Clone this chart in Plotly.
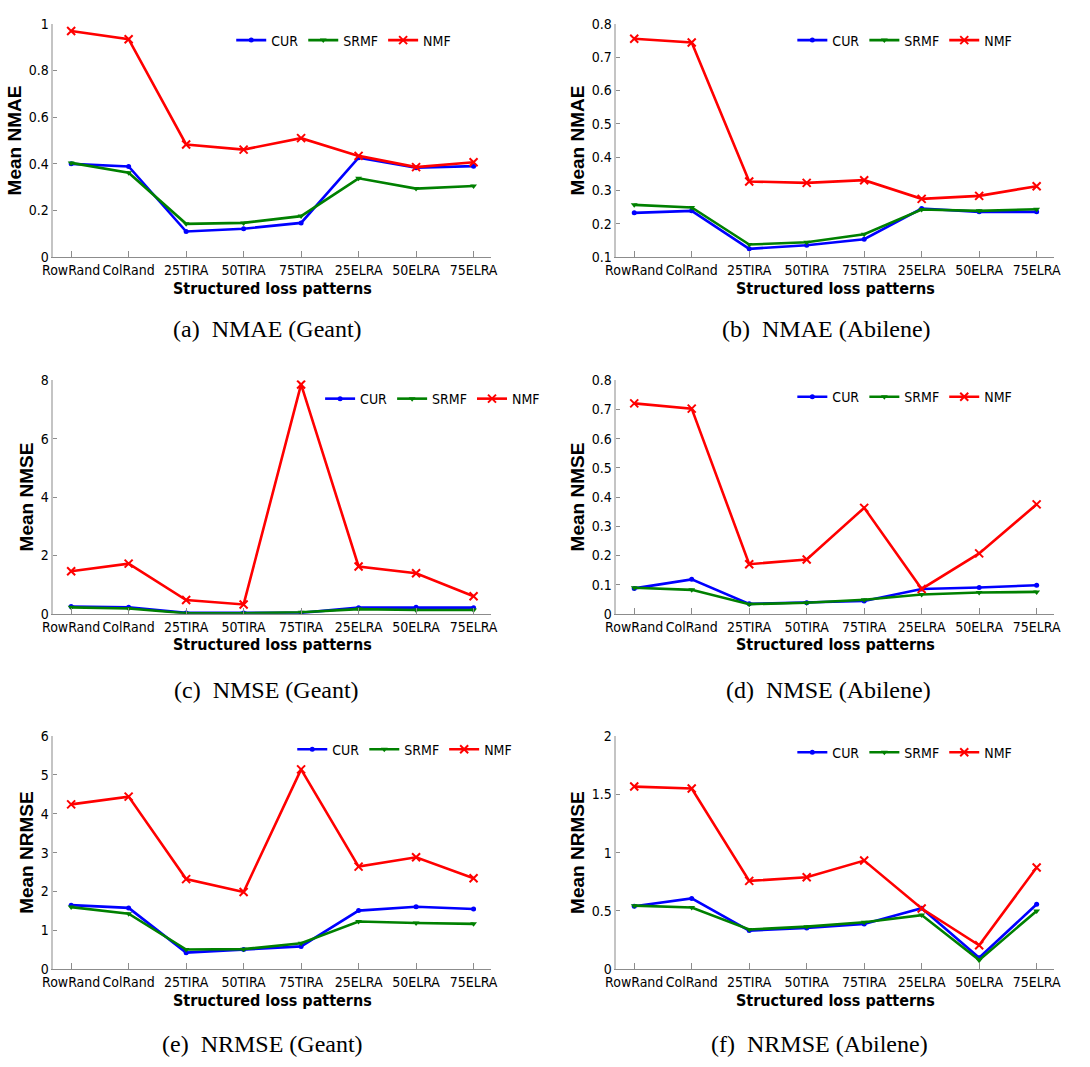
import plotly.graph_objects as go

# ---------------- data ----------------
categories = ["RowRand", "ColRand", "25TIRA", "50TIRA", "75TIRA", "25ELRA", "50ELRA", "75ELRA"]
methods = ["CUR", "SRMF", "NMF"]

nmae_geant_cur = [0.400, 0.389, 0.110, 0.122, 0.147, 0.426, 0.383, 0.390]
nmae_geant_srmf = [0.404, 0.362, 0.143, 0.147, 0.176, 0.338, 0.294, 0.305]
nmae_geant_nmf = [0.969, 0.934, 0.483, 0.461, 0.510, 0.434, 0.386, 0.407]

nmae_abilene_cur = [0.233, 0.239, 0.125, 0.136, 0.154, 0.246, 0.236, 0.236]
nmae_abilene_srmf = [0.257, 0.249, 0.138, 0.145, 0.169, 0.243, 0.239, 0.244]
nmae_abilene_nmf = [0.755, 0.744, 0.327, 0.323, 0.331, 0.275, 0.284, 0.313]

nmse_geant_cur = [0.25, 0.22, 0.03, 0.03, 0.03, 0.21, 0.22, 0.21]
nmse_geant_srmf = [0.22, 0.18, 0.02, 0.02, 0.05, 0.16, 0.13, 0.13]
nmse_geant_nmf = [1.46, 1.72, 0.47, 0.32, 7.86, 1.62, 1.39, 0.60]

nmse_abilene_cur = [0.087, 0.118, 0.034, 0.038, 0.044, 0.085, 0.090, 0.098]
nmse_abilene_srmf = [0.089, 0.082, 0.033, 0.038, 0.048, 0.066, 0.073, 0.075]
nmse_abilene_nmf = [0.721, 0.703, 0.170, 0.186, 0.363, 0.085, 0.207, 0.375]

nrmse_geant_cur = [1.65, 1.58, 0.43, 0.51, 0.59, 1.51, 1.61, 1.55]
nrmse_geant_srmf = [1.60, 1.43, 0.51, 0.52, 0.67, 1.23, 1.19, 1.17]
nrmse_geant_nmf = [4.24, 4.44, 2.32, 1.99, 5.14, 2.64, 2.88, 2.34]

nrmse_abilene_cur = [0.541, 0.608, 0.332, 0.355, 0.389, 0.524, 0.099, 0.558]
nrmse_abilene_srmf = [0.546, 0.530, 0.341, 0.366, 0.403, 0.465, 0.079, 0.501]
nrmse_abilene_nmf = [1.566, 1.549, 0.758, 0.789, 0.932, 0.521, 0.206, 0.873]

y_titles = ["Mean NMAE", "Mean NMAE", "Mean NMSE", "Mean NMSE", "Mean NRMSE", "Mean NRMSE"]
captions = ["(a)  NMAE (Geant)", "(b)  NMAE (Abilene)", "(c)  NMSE (Geant)",
            "(d)  NMSE (Abilene)", "(e)  NRMSE (Geant)", "(f)  NRMSE (Abilene)"]
y_ticks = [
    [0, 0.2, 0.4, 0.6, 0.8, 1],
    [0.1, 0.2, 0.3, 0.4, 0.5, 0.6, 0.7, 0.8],
    [0, 2, 4, 6, 8],
    [0, 0.1, 0.2, 0.3, 0.4, 0.5, 0.6, 0.7, 0.8],
    [0, 1, 2, 3, 4, 5, 6],
    [0, 0.5, 1, 1.5, 2],
]
series = [
    (nmae_geant_cur, nmae_geant_srmf, nmae_geant_nmf),
    (nmae_abilene_cur, nmae_abilene_srmf, nmae_abilene_nmf),
    (nmse_geant_cur, nmse_geant_srmf, nmse_geant_nmf),
    (nmse_abilene_cur, nmse_abilene_srmf, nmse_abilene_nmf),
    (nrmse_geant_cur, nrmse_geant_srmf, nrmse_geant_nmf),
    (nrmse_abilene_cur, nrmse_abilene_srmf, nrmse_abilene_nmf),
]

# ---------------- layout / style ----------------
W, H = 1090, 1067
NARROW = "Liberation Sans Narrow, Arial Narrow, DejaVu Sans Condensed, sans-serif"
BOLD = "Liberation Sans, Arial, Helvetica, sans-serif"
SERIF = "Liberation Serif, Times New Roman, serif"

# pixel boxes: (left, right, top, bottom)
boxes = [
    (43, 488, 16, 253), (615, 1060, 16, 253),
    (43, 488, 378, 615), (615, 1060, 378, 615),
    (43, 488, 739, 976), (615, 1060, 739, 976),
]
# legend anchor (x px, y px, xanchor)
legend_pos = [(338, 33, "center"), (908, 33, "center"), (314, 397, "left"),
              (908, 395, "center"), (400, 753, "center"), (908, 756, "center")]
caption_pos = [(261, 326), (828, 326), (260, 692), (830, 692), (255, 1052), (821, 1052)]

colors = ["#0000ff", "#008000", "#ff0000"]
symbols = ["circle", "triangle-down", "x-thin"]
msize = [5, 6, 8]

fig = go.Figure()
layout = dict(
    width=W, height=H, margin=dict(l=0, r=0, t=0, b=0),
    paper_bgcolor="white", plot_bgcolor="white", showlegend=True,
)
annotations = []

for i in range(6):
    n = i + 1
    xa = "xaxis" if n == 1 else f"xaxis{n}"
    ya = "yaxis" if n == 1 else f"yaxis{n}"
    xref = "x" if n == 1 else f"x{n}"
    yref = "y" if n == 1 else f"y{n}"
    lg = "legend" if n == 1 else f"legend{n}"
    l, r, t, b = boxes[i]
    for k in range(3):
        fig.add_trace(go.Scatter(
            x=categories, y=series[i][k], name=methods[k], mode="lines+markers",
            xaxis=xref, yaxis=yref, legend=lg,
            line=dict(color=colors[k], width=2.6),
            marker=dict(color=colors[k], symbol=symbols[k], size=msize[k],
                        line=dict(color=colors[k], width=2 if k == 2 else 0)),
        ))
    layout[xa] = dict(
        domain=[l / W, r / W], anchor=yref, type="category",
        range=[-0.31, 7.31], showgrid=False, zeroline=False,
        showline=True, linecolor="#8c8c8c", linewidth=1.2, mirror=False,
        ticks="inside", ticklen=6, tickcolor="#8c8c8c",
        tickfont=dict(family=NARROW, size=14, color="black"),
        title=dict(text="<b>Structured loss patterns</b>",
                   font=dict(family=NARROW, size=16, color="black"), standoff=5),
    )
    tv = y_ticks[i]
    layout[ya] = dict(
        domain=[1 - b / H, 1 - t / H], anchor=xref,
        range=[tv[0], tv[-1]], tickvals=tv, ticktext=[f"{v:g}" for v in tv],
        showgrid=False, zeroline=False,
        showline=True, linecolor="#c4c4c4", linewidth=1.6, mirror=False,
        ticks="inside", ticklen=4, tickcolor="#8c8c8c",
        tickfont=dict(family=NARROW, size=14, color="black"),
        title=dict(text=f"<b>{y_titles[i]}</b>",
                   font=dict(family=BOLD, size=19, color="black"), standoff=2),
    )
    lx, ly, lanchor = legend_pos[i]
    layout[lg] = dict(
        orientation="h", x=lx / W, y=1 - ly / H, xanchor=lanchor, yanchor="middle",
        xref="paper", yref="paper",
        bgcolor="rgba(0,0,0,0)", borderwidth=0, itemwidth=30,
        font=dict(family=NARROW, size=14, color="black"),
    )
    cx, cy = caption_pos[i]
    annotations.append(dict(
        text=captions[i], x=cx / W, y=1 - cy / H, xref="paper", yref="paper",
        xanchor="center", yanchor="middle", showarrow=False,
        font=dict(family=SERIF, size=24, color="black"),
    ))

layout["annotations"] = annotations
fig.update_layout(**layout)
fig.write_html("out.html")
